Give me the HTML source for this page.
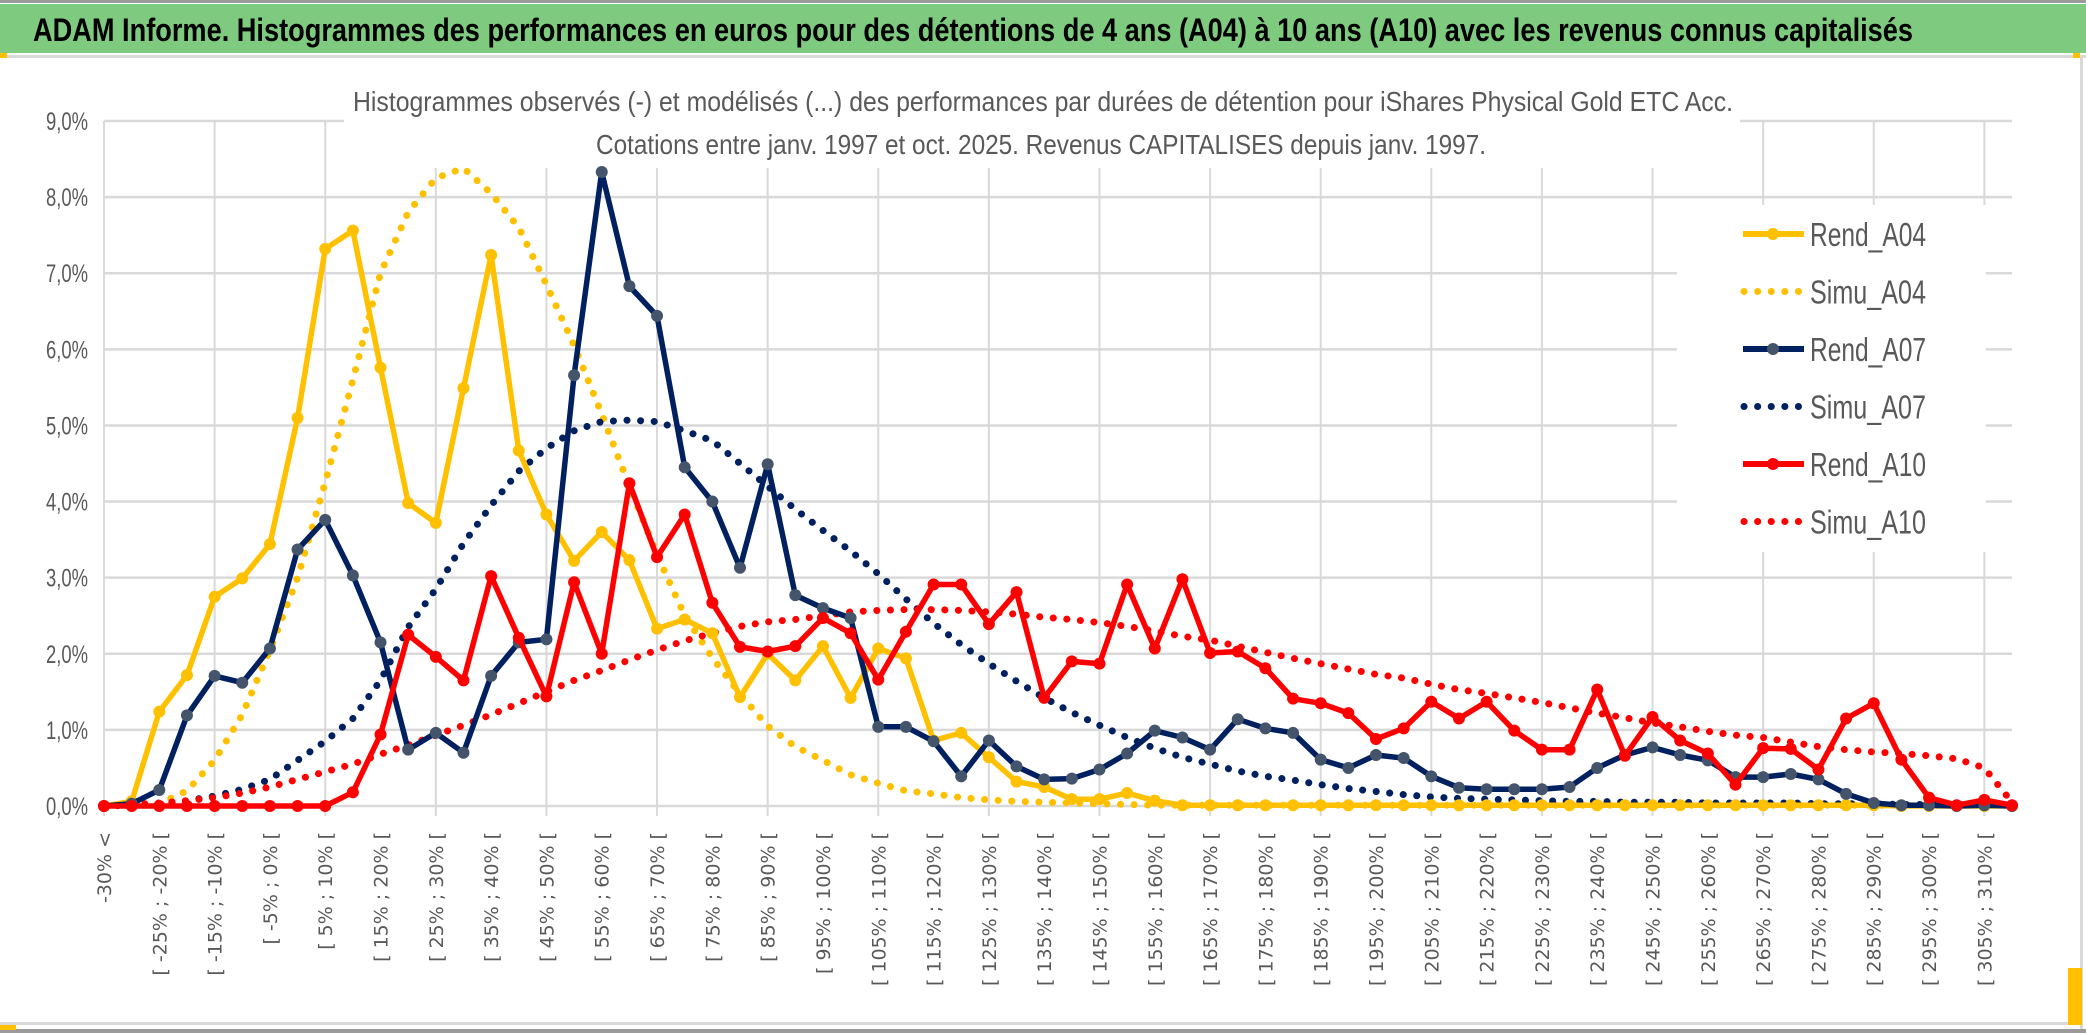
<!DOCTYPE html>
<html><head><meta charset="utf-8">
<style>
html,body{margin:0;padding:0;background:#fff;}
svg{display:block;}
</style></head>
<body>
<svg id="chart" xmlns="http://www.w3.org/2000/svg" width="2086" height="1033" viewBox="0 0 2086 1033">
  <rect x="0" y="0" width="2086" height="1033" fill="#ffffff"/>
  <rect x="0" y="0" width="2086" height="3" fill="#9a9a9a"/>
  <rect x="0" y="4" width="2086" height="49" fill="#7ECA7F"/>
  <text x="33" y="41" font-family="'Liberation Sans Narrow','Liberation Sans',sans-serif" font-weight="bold" font-size="32" fill="#000" textLength="1880" lengthAdjust="spacingAndGlyphs">ADAM Informe. Histogrammes des performances en euros pour des détentions de 4 ans (A04) à 10 ans (A10) avec les revenus connus capitalisés</text>
  <rect x="0" y="55" width="2086" height="3" fill="#d9d9d9"/>
  <rect x="2080" y="55" width="3" height="975" fill="#d9d9d9"/>
  <rect x="0" y="1022" width="2080" height="3" fill="#d9d9d9"/>
  <rect x="0" y="1029" width="2086" height="4" fill="#9a9a9a"/>
  <rect x="0" y="53" width="7" height="5" fill="#FFC000"/>
  <rect x="2073" y="53" width="7" height="5" fill="#FFC000"/>
  <rect x="2068" y="968" width="14" height="57" fill="#FFC000"/>
  <rect x="0" y="1025" width="16" height="5" fill="#FFC000"/>
  <g id="grid"></g>
  <g id="yaxis"></g>
  <g id="xaxis"></g>
  <rect x="344" y="96" width="1396" height="72" fill="#ffffff"/>
  <text x="1043" y="111" text-anchor="middle" font-family="'Liberation Sans Narrow','Liberation Sans',sans-serif" font-size="28" fill="#595959" textLength="1380" lengthAdjust="spacingAndGlyphs">Histogrammes observés (-) et modélisés (...) des performances par durées de détention pour iShares Physical Gold ETC Acc.</text>
  <text x="1041" y="154" text-anchor="middle" font-family="'Liberation Sans Narrow','Liberation Sans',sans-serif" font-size="28" fill="#595959" textLength="890" lengthAdjust="spacingAndGlyphs">Cotations entre janv. 1997 et oct. 2025. Revenus CAPITALISES depuis janv. 1997.</text>
  <g id="series"></g>
  <g id="legend"></g>
</svg>
<script>
const categories = (function(){
  const c = ["-30% <"];
  for (let k = 1; k < 70; k++) { const a = -35 + 5*k; c.push("[ " + a + "% ; " + (a+5) + "% ["); }
  return c;
})();
const yTicks = [0,1,2,3,4,5,6,7,8,9];
const yTickLabels = ["0,0%","1,0%","2,0%","3,0%","4,0%","5,0%","6,0%","7,0%","8,0%","9,0%"];
const seriesNames = ["Rend_A04","Simu_A04","Rend_A07","Simu_A07","Rend_A10","Simu_A10"];
const rendA04 = [0,0.06,1.24,1.72,2.75,2.99,3.44,5.1,7.32,7.56,5.76,3.98,3.72,5.49,7.24,4.67,3.83,3.22,3.6,3.23,2.33,2.45,2.27,1.43,2.0,1.65,2.1,1.42,2.07,1.94,0.86,0.96,0.64,0.32,0.25,0.09,0.09,0.17,0.07,0.01,0.01,0.01,0.01,0.01,0.01,0.01,0.01,0.01,0.01,0.01,0.01,0.01,0.01,0.01,0.01,0.01,0.01,0.01,0.01,0.01,0.01,0.01,0.01,0.01,0.01,0,0,0,0,0];
const simuA04 = [0,0.01,0.03,0.2,0.6,1.2,2.05,3.0,4.25,5.6,7.0,7.8,8.25,8.38,8.05,7.6,6.85,6.05,5.15,4.2,3.3,2.5,1.95,1.47,1.05,0.78,0.6,0.41,0.3,0.2,0.16,0.11,0.08,0.06,0.05,0.04,0.03,0.02,0.01,0.01,0.01,0.01,0.01,0.01,0.01,0.01,0.01,0.01,0.01,0.01,0.01,0.01,0.01,0.01,0.01,0.01,0.01,0.01,0.01,0.01,0.01,0.01,0.01,0.01,0.01,0.01,0.01,0.01,0.01,0.01];
const rendA07 = [0,0.03,0.21,1.19,1.71,1.62,2.07,3.37,3.76,3.03,2.15,0.74,0.96,0.7,1.71,2.15,2.19,5.66,8.33,6.83,6.44,4.45,4.0,3.13,4.49,2.77,2.6,2.47,1.04,1.04,0.85,0.39,0.86,0.52,0.35,0.36,0.48,0.69,0.99,0.9,0.74,1.14,1.02,0.96,0.61,0.5,0.67,0.63,0.39,0.24,0.22,0.22,0.22,0.25,0.5,0.67,0.77,0.67,0.6,0.38,0.38,0.42,0.35,0.16,0.04,0.01,0.01,0,0.01,0];
const simuA07 = [0,0.01,0.03,0.07,0.13,0.22,0.35,0.6,0.85,1.15,1.65,2.35,2.85,3.45,3.95,4.4,4.7,4.93,5.05,5.07,5.05,4.93,4.8,4.5,4.2,3.9,3.62,3.35,3.05,2.72,2.4,2.12,1.87,1.64,1.42,1.23,1.06,0.9,0.76,0.64,0.55,0.46,0.39,0.34,0.28,0.23,0.19,0.15,0.12,0.1,0.09,0.08,0.07,0.06,0.06,0.05,0.05,0.05,0.04,0.04,0.04,0.04,0.03,0.03,0.03,0.02,0.02,0.02,0.02,0.01];
const rendA10 = [0,0,0,0,0,0,0,0,0,0.18,0.94,2.25,1.96,1.65,3.02,2.21,1.44,2.94,2.0,4.24,3.27,3.83,2.67,2.09,2.03,2.1,2.47,2.27,1.66,2.29,2.91,2.91,2.39,2.81,1.42,1.9,1.87,2.91,2.07,2.98,2.01,2.03,1.81,1.41,1.35,1.22,0.88,1.02,1.37,1.15,1.37,0.99,0.74,0.74,1.53,0.66,1.17,0.86,0.69,0.28,0.76,0.75,0.48,1.15,1.35,0.61,0.11,0.01,0.08,0.01];
const simuA10 = [0.01,0.02,0.04,0.07,0.11,0.17,0.25,0.35,0.45,0.55,0.68,0.8,0.93,1.06,1.2,1.35,1.5,1.65,1.78,1.92,2.05,2.17,2.27,2.36,2.42,2.45,2.5,2.55,2.57,2.58,2.58,2.57,2.55,2.52,2.48,2.45,2.41,2.36,2.3,2.23,2.18,2.1,2.02,1.94,1.87,1.8,1.73,1.68,1.6,1.53,1.48,1.42,1.36,1.29,1.22,1.16,1.09,1.04,0.98,0.93,0.9,0.84,0.78,0.74,0.71,0.69,0.66,0.62,0.5,0.05];

const NS = "http://www.w3.org/2000/svg";
const X0 = 104, X1 = 2012, Y0 = 806, YPER = 76.11;
function xOf(i){ return X0 + i * (X1 - X0) / (categories.length - 1); }
function yOf(v){ return Y0 - v * YPER; }
function mk(tag, attrs, parent){
  const e = document.createElementNS(NS, tag);
  for (const k in attrs) e.setAttribute(k, attrs[k]);
  parent.appendChild(e);
  return e;
}
const grid = document.getElementById("grid");
const yaxis = document.getElementById("yaxis");
const xaxis = document.getElementById("xaxis");
const seriesG = document.getElementById("series");
const legend = document.getElementById("legend");

yTicks.forEach((t, i) => {
  const ln = mk("line", {x1: X0, x2: X1, y1: yOf(t), y2: yOf(t), stroke: "#d9d9d9", "stroke-width": 2.5}, grid);
  
  
  const tx = mk("text", {x: 88, y: yOf(t) + 9, "text-anchor": "end", "font-family": "'Liberation Sans Narrow','Liberation Sans',sans-serif", "font-size": 25, fill: "#595959", textLength: 42, lengthAdjust: "spacingAndGlyphs"}, yaxis);
  tx.textContent = yTickLabels[i];
  
  
});
for (let i = 0; i < categories.length; i += 4) {
  const ln = mk("line", {x1: xOf(i), x2: xOf(i), y1: yOf(9), y2: Y0 + 10, stroke: "#d9d9d9", "stroke-width": 2}, grid);
  
  
}
for (let i = 0; i < categories.length; i += 2) {
  const x = xOf(i) + 7, y = 832;
  const tx = mk("text", {x: x, y: y, transform: "rotate(-90 " + x + " " + y + ")", "text-anchor": "end", "font-family": "'DejaVu Sans',sans-serif", "font-size": 19, fill: "#595959"}, xaxis);
  tx.textContent = categories[i];
  
  
}

function pathOf(arr){ return arr.map((v, i) => (i ? "L" : "M") + xOf(i).toFixed(1) + " " + yOf(v).toFixed(1)).join(" "); }
function dotted(arr, color, name){
  const p = mk("path", {d: pathOf(arr), fill: "none", stroke: color, "stroke-width": 7, "stroke-linecap": "round", "stroke-linejoin": "round", "stroke-dasharray": "0.1 13.5"}, seriesG);
  
  
}
function solid(arr, color, mcolor, name){
  const g = mk("g", {}, seriesG);
  
  
  const p = mk("path", {d: pathOf(arr), fill: "none", stroke: color, "stroke-width": 5.5, "stroke-linejoin": "round"}, g);
  
  
  arr.forEach((v, i) => {
    const c = mk("circle", {cx: xOf(i), cy: yOf(v), r: 6, fill: mcolor}, g);
    
    
  });
}
dotted(simuA04, "#FFC000", "simu-a04-line");
dotted(simuA07, "#002060", "simu-a07-line");
dotted(simuA10, "#FF0000", "simu-a10-line");
solid(rendA04, "#FFC000", "#FFC000", "rend-a04-series");
solid(rendA07, "#002060", "#44546A", "rend-a07-series");
solid(rendA10, "#FF0000", "#FF0000", "rend-a10-series");

const lb = mk("rect", {x: 1677, y: 205, width: 309, height: 347, fill: "#ffffff"}, legend);


const legendColors = ["#FFC000","#FFC000","#002060","#002060","#FF0000","#FF0000"];
const legendMarker = ["#FFC000","#FFC000","#44546A","#44546A","#FF0000","#FF0000"];
seriesNames.forEach((n, i) => {
  const y = 234 + i * 57.5;
  const g = mk("g", {}, legend);
  
  
  if (i % 2 === 0) {
    mk("line", {x1: 1743, x2: 1804, y1: y, y2: y, stroke: legendColors[i], "stroke-width": 6}, g);
    mk("circle", {cx: 1773, cy: y, r: 6, fill: legendMarker[i]}, g);
  } else {
    mk("line", {x1: 1744, x2: 1802, y1: y, y2: y, stroke: legendColors[i], "stroke-width": 7, "stroke-linecap": "round", "stroke-dasharray": "0.1 13.5"}, g);
  }
  const t = mk("text", {x: 1810, y: y + 12, "font-family": "'Liberation Sans Narrow','Liberation Sans',sans-serif", "font-size": 33, fill: "#595959", textLength: 116, lengthAdjust: "spacingAndGlyphs"}, g);
  t.textContent = n;
  
  
});
</script>
</body></html>
